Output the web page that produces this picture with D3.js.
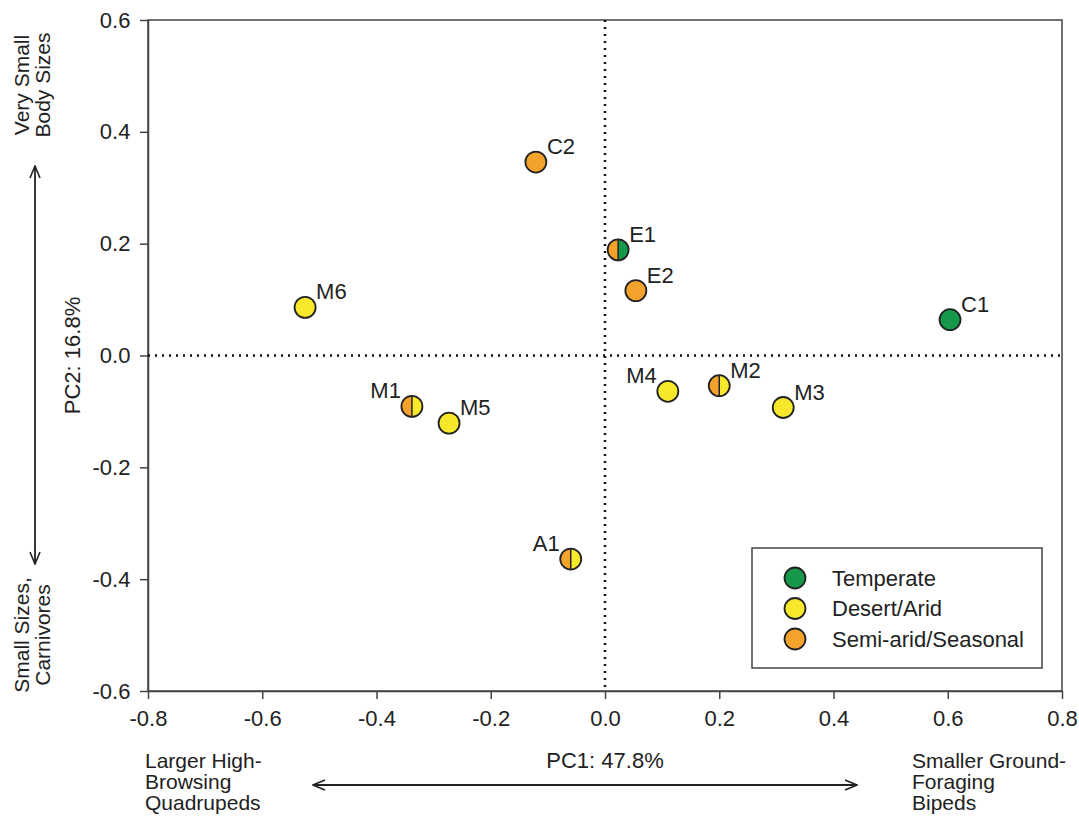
<!DOCTYPE html>
<html>
<head>
<meta charset="utf-8">
<script src="https://cdn.jsdelivr.net/npm/d3@7"></script>
<style>
  body { margin: 0; background: #fff; }
  svg text { font-family: "Liberation Sans", Arial, sans-serif; fill: #222; }
</style>
</head>
<body>
<div id="container"></div>
<script>
// site data
const sites = ["C2", "E1", "E2", "C1", "M6", "M1", "M5", "M4", "M2", "M3", "A1"];
const pc1 = [-0.121, 0.023, 0.054, 0.604, -0.525, -0.338, -0.273, 0.110, 0.200, 0.312, -0.060];
const pc2 = [0.346, 0.189, 0.116, 0.064, 0.086, -0.091, -0.121, -0.064, -0.054, -0.093, -0.364];
// left half / right half climate (same value = whole circle)
const climLeft  = ["semi", "semi", "semi", "temp", "desert", "semi", "desert", "desert", "semi", "desert", "semi"];
const climRight = ["semi", "temp", "semi", "temp", "desert", "desert", "desert", "desert", "desert", "desert", "desert"];
const labelSide = ["right", "right", "right", "right", "right", "left", "right", "left", "right", "right", "left"];

const climates = ["temp", "desert", "semi"];
const climNames = ["Temperate", "Desert/Arid", "Semi-arid/Seasonal"];
const xTicks = [-0.8, -0.6, -0.4, -0.2, 0.0, 0.2, 0.4, 0.6, 0.8];
const yTicks = [-0.6, -0.4, -0.2, 0.0, 0.2, 0.4, 0.6];

let w = 1079, h = 818;
let mLeft = 148, mRight = 1062, mTop = 20, mBottom = 691;
const fs = "22px";

let viz = d3.select("#container")
  .append("svg")
    .attr("width", w)
    .attr("height", h);

const color = d3.scaleOrdinal()
  .domain(climates)
  .range(["#16984a", "#f7e82b", "#f3a22b"]);

const x = d3.scaleLinear().domain([-0.8, 0.8]).range([mLeft, mRight]);
const y = d3.scaleLinear().domain([-0.6, 0.6]).range([mBottom, mTop]);
const fmt = d => d3.format(".1f")(d).replace("−", "-");

// frame
viz.append("rect")
  .attr("x", mLeft).attr("y", mTop)
  .attr("width", mRight - mLeft).attr("height", mBottom - mTop)
  .attr("fill", "none").attr("stroke", "#444").attr("stroke-width", 1.5);

// axes
const xAxis = viz.append("g")
  .attr("transform", `translate(0,${mBottom})`)
  .call(d3.axisBottom(x).tickValues(xTicks).tickFormat(fmt).tickSize(8).tickSizeOuter(0));
const yAxis = viz.append("g")
  .attr("transform", `translate(${mLeft},0)`)
  .call(d3.axisLeft(y).tickValues(yTicks).tickFormat(fmt).tickSize(8).tickSizeOuter(0));

[xAxis, yAxis].forEach(a => {
  a.select(".domain").attr("stroke", "#444").attr("stroke-width", 1.5);
  a.selectAll(".tick line").attr("stroke", "#444").attr("stroke-width", 1.5);
  a.selectAll("text").style("font-size", fs).attr("fill", "#222");
});
xAxis.selectAll("text").attr("dy", "1.1em");
yAxis.selectAll("text").attr("dx", "-0.3em");

// zero lines
viz.append("line")
  .attr("x1", x(0)).attr("x2", x(0)).attr("y1", mTop).attr("y2", mBottom)
  .attr("stroke", "#111").attr("stroke-width", 2.5).attr("stroke-dasharray", "2,5");
viz.append("line")
  .attr("x1", mLeft).attr("x2", mRight).attr("y1", y(0)).attr("y2", y(0))
  .attr("stroke", "#111").attr("stroke-width", 2.5).attr("stroke-dasharray", "2,5");

// points
const r = 10.5;
const half = (side) => d3.arc().innerRadius(0).outerRadius(r)
  .startAngle(side === "left" ? Math.PI : 0)
  .endAngle(side === "left" ? 2 * Math.PI : Math.PI)();

sites.forEach((s, i) => {
  const g = viz.append("g").attr("transform", `translate(${x(pc1[i])},${y(pc2[i])})`);
  if (climLeft[i] === climRight[i]) {
    g.append("circle").attr("r", r).attr("fill", color(climLeft[i]));
  } else {
    g.append("path").attr("d", half("left")).attr("fill", color(climLeft[i]));
    g.append("path").attr("d", half("right")).attr("fill", color(climRight[i]));
    g.append("line").attr("y1", -r).attr("y2", r).attr("stroke", "#222").attr("stroke-width", 1.5);
  }
  g.append("circle").attr("r", r).attr("fill", "none").attr("stroke", "#222").attr("stroke-width", 1.8);
  g.append("text")
    .attr("x", labelSide[i] === "right" ? 11 : -11)
    .attr("y", -8)
    .attr("text-anchor", labelSide[i] === "right" ? "start" : "end")
    .style("font-size", fs)
    .text(s);
});

// legend
const legend = viz.append("g").attr("transform", "translate(752,548)");
legend.append("rect")
  .attr("width", 290).attr("height", 120)
  .attr("fill", "#fff").attr("stroke", "#444").attr("stroke-width", 1.5);
climates.forEach((c, i) => {
  legend.append("circle")
    .attr("cx", 43).attr("cy", 30 + i * 30.5).attr("r", r)
    .attr("fill", color(c)).attr("stroke", "#222").attr("stroke-width", 1.8);
  legend.append("text")
    .attr("x", 80).attr("y", 30 + i * 30.5).attr("dy", "0.35em")
    .style("font-size", fs)
    .text(climNames[i]);
});

// axis titles
viz.append("text")
  .attr("x", x(0)).attr("y", 768)
  .attr("text-anchor", "middle").style("font-size", fs)
  .text("PC1: 47.8%");
viz.append("text")
  .attr("transform", `translate(80,${y(0)}) rotate(-90)`)
  .attr("text-anchor", "middle").style("font-size", fs)
  .text("PC2: 16.8%");

// descriptive labels
function multiLine(xp, yp, lines) {
  const t = viz.append("text")
    .attr("x", xp).attr("y", yp)
    .style("font-size", "21px");
  lines.forEach((l, i) => t.append("tspan").attr("x", xp).attr("dy", i === 0 ? 0 : 21).text(l));
}
multiLine(145, 768, ["Larger High-", "Browsing", "Quadrupeds"]);
multiLine(912, 768, ["Smaller Ground-", "Foraging", "Bipeds"]);

function rotLines(cx, cy, lines) {
  const t = viz.append("text")
    .attr("transform", `translate(${cx},${cy}) rotate(-90)`)
    .attr("text-anchor", "middle")
    .style("font-size", "21px");
  lines.forEach((l, i) => t.append("tspan").attr("x", 0).attr("dy", i === 0 ? 0 : 21).text(l));
}
rotLines(29, 85, ["Very Small", "Body Sizes"]);
rotLines(29, 635, ["Small Sizes,", "Carnivores"]);

// arrows
const defs = viz.append("defs");
defs.append("marker")
  .attr("id", "arr").attr("viewBox", "0 0 14 12")
  .attr("refX", 13).attr("refY", 6)
  .attr("markerWidth", 14).attr("markerHeight", 12)
  .attr("markerUnits", "userSpaceOnUse")
  .attr("orient", "auto-start-reverse")
  .append("path").attr("d", "M1,1 L13,6 L1,11").attr("fill", "none").attr("stroke", "#222").attr("stroke-width", 1.6);

viz.append("line")
  .attr("x1", 313).attr("x2", 857).attr("y1", 785).attr("y2", 785)
  .attr("stroke", "#222").attr("stroke-width", 1.8)
  .attr("marker-start", "url(#arr)").attr("marker-end", "url(#arr)");
viz.append("line")
  .attr("x1", 35).attr("x2", 35).attr("y1", 166).attr("y2", 564)
  .attr("stroke", "#222").attr("stroke-width", 1.8)
  .attr("marker-start", "url(#arr)").attr("marker-end", "url(#arr)");
</script>
</body>
</html>
